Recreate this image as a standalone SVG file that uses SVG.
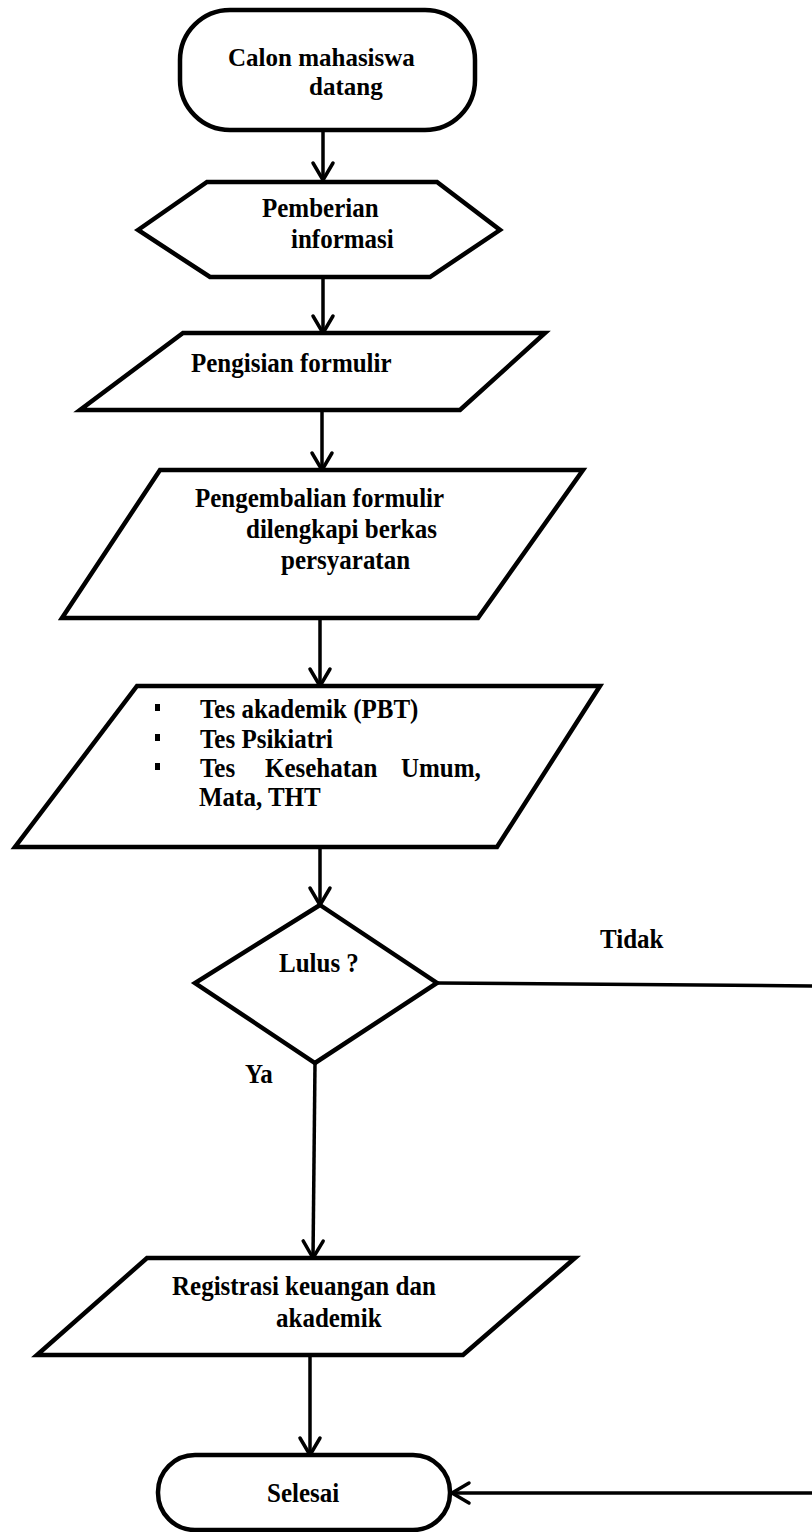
<svg xmlns="http://www.w3.org/2000/svg" width="812" height="1532" viewBox="0 0 812 1532">
<style>
.shape{fill:#fff;stroke:#000;stroke-width:4.5;stroke-linejoin:miter}
.conn{fill:none;stroke:#000;stroke-width:3.5}
text{font-family:"Liberation Serif","Times New Roman",serif;font-weight:bold;font-size:25px;fill:#000}
</style>
<defs>
<marker id="arr" markerUnits="userSpaceOnUse" markerWidth="24" markerHeight="28" viewBox="-20 -14 24 28" refX="0" refY="0" orient="auto">
<path d="M-17,-10 L0,0 L-17,10" fill="none" stroke="#000" stroke-width="3.5" stroke-linecap="round" stroke-linejoin="round"/>
</marker>
</defs>
<rect width="812" height="1532" fill="#fff"/>
<g id="connectors">
<line class="conn" x1="323" y1="130" x2="323" y2="180" marker-end="url(#arr)"/>
<line class="conn" x1="323" y1="277" x2="323" y2="333" marker-end="url(#arr)"/>
<line class="conn" x1="322" y1="410" x2="322" y2="470" marker-end="url(#arr)"/>
<line class="conn" x1="320" y1="618" x2="320" y2="686" marker-end="url(#arr)"/>
<line class="conn" x1="320" y1="847" x2="320" y2="905" marker-end="url(#arr)"/>
<line class="conn" x1="437" y1="983" x2="812" y2="986"/>
<line class="conn" x1="315" y1="1063" x2="313" y2="1258" marker-end="url(#arr)"/>
<line class="conn" x1="310" y1="1355" x2="310" y2="1455" marker-end="url(#arr)"/>
<line class="conn" x1="812" y1="1493" x2="452" y2="1493" marker-end="url(#arr)"/>
<text transform="translate(600 948) scale(1 1.1)">Tidak</text>
<text transform="translate(245 1083) scale(1 1.1)">Ya</text>
</g>
<g id="start">
<rect class="shape" x="180" y="10" width="295" height="120" rx="50" ry="50"/>
<text x="228" y="66">Calon mahasiswa</text>
<text x="309" y="95">datang</text>
</g>
<g id="info">
<polygon class="shape" points="138,230 207,182 437,182 500,230 430,277 210,277"/>
<text transform="translate(262 217) scale(1 1.1)">Pemberian</text>
<text transform="translate(291 248) scale(1 1.1)">informasi</text>
</g>
<g id="isi">
<polygon class="shape" points="183,333 545,333 460,410 80,410"/>
<text transform="translate(191 372) scale(1 1.1)">Pengisian formulir</text>
</g>
<g id="kembali">
<polygon class="shape" points="160,470 583,470 478,618 62,618"/>
<text transform="translate(195 507) scale(1 1.1)">Pengembalian formulir</text>
<text transform="translate(246 538) scale(1 1.1)">dilengkapi berkas</text>
<text transform="translate(281 569) scale(1 1.1)">persyaratan</text>
</g>
<g id="tes">
<polygon class="shape" points="137,686 600,686 497,847 15,847"/>
<rect x="155" y="704" width="5" height="7"/>
<rect x="155" y="734" width="5" height="7"/>
<rect x="155" y="763" width="5" height="7"/>
<text transform="translate(200 718) scale(1 1.1)">Tes akademik (PBT)</text>
<text transform="translate(200 748) scale(1 1.1)">Tes Psikiatri</text>
<text transform="translate(200 777) scale(1 1.1)">Tes</text>
<text transform="translate(265 777) scale(1 1.1)">Kesehatan</text>
<text transform="translate(401 777) scale(1 1.1)">Umum,</text>
<text transform="translate(199 806) scale(1 1.1)">Mata, THT</text>
</g>
<g id="lulus">
<polygon class="shape" points="320,905 437,983 315,1063 195,983"/>
<text transform="translate(279 972) scale(1 1.1)">Lulus ?</text>
</g>
<g id="registrasi">
<polygon class="shape" points="147,1258 575,1258 463,1355 37,1355"/>
<text transform="translate(172 1295) scale(1 1.1)">Registrasi keuangan dan</text>
<text transform="translate(276 1327) scale(1 1.1)">akademik</text>
</g>
<g id="selesai">
<rect class="shape" x="158" y="1455" width="292" height="75" rx="37" ry="37"/>
<text transform="translate(267 1502) scale(1 1.1)">Selesai</text>
</g>
</svg>
